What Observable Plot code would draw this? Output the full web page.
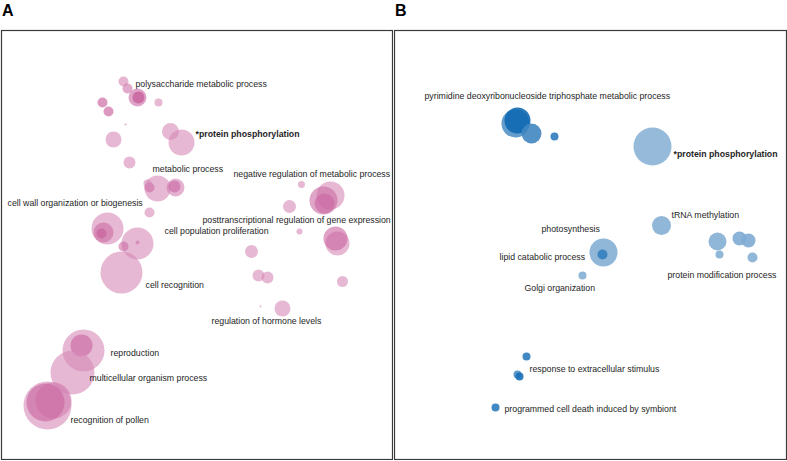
<!DOCTYPE html>
<html><head><meta charset="utf-8">
<script src="https://cdn.jsdelivr.net/npm/d3@7"></script>
<script src="https://cdn.jsdelivr.net/npm/@observablehq/plot@0.6"></script>
<style>
body{margin:0;background:#fff;font-family:Arial,"Liberation Sans",sans-serif;}
#wrap{position:relative;width:787px;height:461px;overflow:hidden;}
.panel{position:absolute;top:0;height:461px;}
.letter{position:absolute;top:1px;left:2px;font-weight:bold;font-size:16px;line-height:20px;color:#000;}
.panel svg{position:absolute;top:29px;left:0;}
</style></head><body><div id="wrap"></div>
<script>
// Panel A bubbles: semantic-space position (x, y), radius r, shade v (0 light .. 1 dark)
const bubblesA = [
  {x:123,y:81,r:5,v:0.15},{x:127,y:88,r:5,v:0.35},
  {x:137,y:97,r:9,v:0.45},{x:138,y:97,r:6,v:0.75},
  {x:158,y:102,r:4,v:0.1},{x:102,y:102,r:5,v:0.65},{x:108,y:111,r:5,v:0.65},
  {x:125,y:124,r:1,v:0.3},{x:113,y:139,r:8,v:0.1},
  {x:170,y:131,r:8.5,v:0.1},{x:181,y:142,r:13,v:0.1},{x:129,y:162,r:6,v:0.1},
  {x:157,y:188,r:13,v:0.1},{x:149,y:187,r:5,v:0.4},{x:147,y:183,r:4,v:0.1},
  {x:175,y:187,r:9,v:0.2},{x:174,y:186,r:6,v:0.45},
  {x:149,y:212,r:5,v:0.1},{x:301,y:184,r:3.5,v:0.1},
  {x:330,y:195,r:14,v:0.1},{x:323,y:200,r:14,v:0.4},{x:324,y:203,r:10,v:0.45},
  {x:289,y:206,r:6.5,v:0.1},
  {x:107,y:228,r:16,v:0.1},{x:103,y:232,r:10,v:0.4},{x:101,y:233,r:5,v:0.55},
  {x:137,y:243,r:16,v:0.1},{x:123,y:246,r:5,v:0.4},{x:137,y:242,r:2,v:0.3},
  {x:121,y:272,r:21,v:0.1},
  {x:299,y:231,r:3,v:0.1},
  {x:337,y:243,r:12,v:0.1},{x:335,y:238,r:12,v:0.5},
  {x:251,y:251,r:6.5,v:0.1},{x:258,y:275,r:6,v:0.1},{x:267,y:277,r:6,v:0.1},
  {x:342,y:281,r:5.5,v:0.1},{x:260,y:306,r:1,v:0.1},{x:282,y:308,r:8,v:0.1},
  {x:83,y:350,r:21,v:0.1},{x:81,y:345,r:11,v:0.5},
  {x:72,y:372,r:22,v:0.1},
  {x:47,y:405,r:24,v:0.1},{x:53,y:400,r:18,v:0.2},{x:45,y:402,r:19,v:0.5}
];
const labelsA = [
  {text:"polysaccharide metabolic process",x:135,y:84,bold:false},
  {text:"*protein phosphorylation",x:195,y:134,bold:true},
  {text:"metabolic process",x:152,y:169,bold:false},
  {text:"negative regulation of metabolic process",x:233,y:174,bold:false},
  {text:"cell wall organization or biogenesis",x:7,y:203,bold:false},
  {text:"posttranscriptional regulation of gene expression",x:202,y:220,bold:false},
  {text:"cell population proliferation",x:164,y:231,bold:false},
  {text:"cell recognition",x:145,y:285,bold:false},
  {text:"regulation of hormone levels",x:211,y:321,bold:false},
  {text:"reproduction",x:110,y:353,bold:false},
  {text:"multicellular organism process",x:89,y:378,bold:false},
  {text:"recognition of pollen",x:70,y:420,bold:false}
];
// Panel B bubbles
const bubblesB = [
  {x:515,y:123,r:14,v:0.45},{x:517,y:120,r:13,v:1.0},
  {x:531,y:133,r:10,v:0.6},{x:554,y:136,r:4,v:0.75},
  {x:652,y:146,r:19,v:0},
  {x:661,y:225,r:9.5,v:0.05},
  {x:603,y:252,r:14,v:0.05},{x:602,y:254,r:5,v:0.7},
  {x:582,y:275,r:4,v:0.05},
  {x:717,y:241,r:9,v:0.05},{x:719,y:254,r:4,v:0.05},
  {x:739,y:238,r:7,v:0.1},{x:748,y:240,r:7,v:0.1},
  {x:752,y:257,r:5,v:0.05},
  {x:526,y:356,r:4,v:0.75},
  {x:517,y:374,r:4,v:0.5},{x:519,y:376,r:4,v:0.9},
  {x:495,y:407,r:4,v:0.75}
];
const labelsB = [
  {text:"pyrimidine deoxyribonucleoside triphosphate metabolic process",x:424,y:96,bold:false},
  {text:"*protein phosphorylation",x:673,y:154,bold:true},
  {text:"tRNA methylation",x:671,y:215,bold:false},
  {text:"photosynthesis",x:541,y:229,bold:false},
  {text:"lipid catabolic process",x:499,y:257,bold:false},
  {text:"Golgi organization",x:524,y:288,bold:false},
  {text:"protein modification process",x:667,y:275,bold:false},
  {text:"response to extracellular stimulus",x:529,y:369,bold:false},
  {text:"programmed cell death induced by symbiont",x:504,y:409,bold:false}
];
const panels = [
  {letter:"A", left:0, width:393, bubbles:bubblesA, labels:labelsA, colors:["#d993bc","#b8307f"], opacity:0.6},
  {letter:"B", left:393, width:394, bubbles:bubblesB, labels:labelsB, colors:["#8ab2d6","#0f69b3"], opacity:0.9}
];
const wrap = document.getElementById("wrap");
for (const p of panels) {
  const div = document.createElement("div");
  div.className = "panel";
  div.style.left = p.left + "px";
  div.style.width = p.width + "px";
  const L = document.createElement("div");
  L.className = "letter";
  L.textContent = p.letter;
  div.appendChild(L);
  const fs = 8.75;
  const chart = Plot.plot({
    width: p.width, height: 431, margin: 0,
    style: {fontFamily: "Arial, 'Liberation Sans', sans-serif", background: "transparent"},
    x: {domain: [p.left, p.left + p.width], axis: null},
    y: {domain: [29, 460], reverse: true, axis: null},
    r: {type: "linear", domain: [0, 30], range: [0, 30]},
    color: {type: "linear", domain: [0, 1], range: p.colors},
    marks: [
      Plot.frame({stroke: "#3a3a3a", strokeWidth: 1.2, inset: 1}),
      Plot.dot(p.bubbles, {x: "x", y: "y", r: "r", fill: "v", fillOpacity: p.opacity, stroke: "none", sort: null}),
      Plot.text(p.labels.filter(d => !d.bold), {x: "x", y: "y", text: "text", textAnchor: "start", fontSize: fs, fill: "#1e1e1e"}),
      Plot.text(p.labels.filter(d => d.bold), {x: "x", y: "y", text: "text", textAnchor: "start", fontSize: fs, fontWeight: "bold", fill: "#1e1e1e"})
    ]
  });
  div.appendChild(chart);
  wrap.appendChild(div);
}
</script>
</body></html>
